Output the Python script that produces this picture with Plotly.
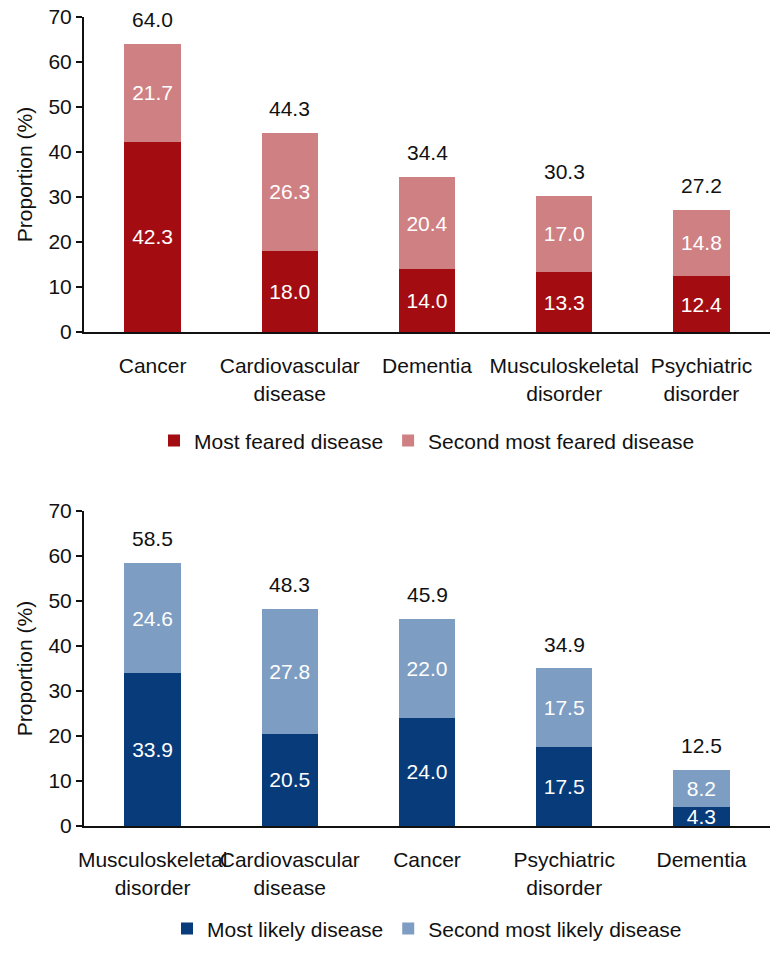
import plotly.graph_objects as go

# Top chart data
fear_categories = ["Cancer", "Cardiovascular<br>disease", "Dementia", "Musculoskeletal<br>disorder", "Psychiatric<br>disorder"]
fear_most = [42.3, 18.0, 14.0, 13.3, 12.4]
fear_second = [21.7, 26.3, 20.4, 17.0, 14.8]
fear_total = [64.0, 44.3, 34.4, 30.3, 27.2]

# Bottom chart data
likely_categories = ["Musculoskeletal<br>disorder", "Cardiovascular<br>disease", "Cancer", "Psychiatric<br>disorder", "Dementia"]
likely_most = [33.9, 20.5, 24.0, 17.5, 4.3]
likely_second = [24.6, 27.8, 22.0, 17.5, 8.2]
likely_total = [58.5, 48.3, 45.9, 34.9, 12.5]

y_ticks = [0, 10, 20, 30, 40, 50, 60, 70]

FONT = "Arial, Liberation Sans, sans-serif"
FS = 21
RED_DARK = "#A30D12"
RED_LIGHT = "#CF8083"
BLUE_DARK = "#083B79"
BLUE_LIGHT = "#7E9DC2"
BW = 0.41
TXT = dict(family=FONT, size=FS, color="white")


def bar(x, y, name, color, xa, ya, lg):
    return go.Bar(x=x, y=y, name=name,
                  marker=dict(color=color, line=dict(width=0)), width=BW,
                  text=[f"{v:.1f}" for v in y], textposition="inside",
                  insidetextanchor="middle", textfont=TXT, textangle=0,
                  constraintext="none", cliponaxis=False,
                  xaxis=xa, yaxis=ya, legend=lg)


fig = go.Figure()
fig.add_trace(bar(fear_categories, fear_most, "Most feared disease", RED_DARK, "x", "y", "legend"))
fig.add_trace(bar(fear_categories, fear_second, "Second most feared disease", RED_LIGHT, "x", "y", "legend"))
fig.add_trace(bar(likely_categories, likely_most, "Most likely disease", BLUE_DARK, "x2", "y2", "legend2"))
fig.add_trace(bar(likely_categories, likely_second, "Second most likely disease", BLUE_LIGHT, "x2", "y2", "legend2"))

annotations = []
for c, t in zip(fear_categories, fear_total):
    annotations.append(dict(x=c, y=t, xref="x", yref="y", text=f"{t:.1f}", showarrow=False,
                            yanchor="bottom", yshift=11, font=dict(family=FONT, size=FS, color="#111")))
for c, t in zip(likely_categories, likely_total):
    annotations.append(dict(x=c, y=t, xref="x2", yref="y2", text=f"{t:.1f}", showarrow=False,
                            yanchor="bottom", yshift=11, font=dict(family=FONT, size=FS, color="#111")))

xax = dict(showline=True, linecolor="#111", linewidth=2, ticks="", showgrid=False,
           tickfont=dict(family=FONT, size=FS, color="#111"), ticklabelstandoff=14,
           tickangle=0, range=[-0.5, 4.5], automargin=False)
yax = dict(showline=True, linecolor="#111", linewidth=2, ticks="outside", ticklen=6,
           tickwidth=2, tickcolor="#111", showgrid=False, zeroline=False,
           range=[0, 70], tickvals=y_ticks, automargin=False, ticklabeloverflow="allow",
           tickfont=dict(family=FONT, size=FS, color="#111"),
           title=dict(text="Proportion (%)", font=dict(family=FONT, size=FS, color="#111"), standoff=10))

fig.update_layout(
    width=782, height=953,
    margin=dict(l=84, r=12, t=17, b=127, autoexpand=False),
    paper_bgcolor="white", plot_bgcolor="white",
    barmode="stack",
    font=dict(family=FONT, size=FS, color="#111"),
    xaxis=dict(**xax, domain=[0, 1], anchor="y"),
    yaxis=dict(**yax, domain=[0.6106, 1], anchor="x"),
    xaxis2=dict(**xax, domain=[0, 1], anchor="y2"),
    yaxis2=dict(**yax, domain=[0, 0.3894], anchor="x2"),
    legend=dict(orientation="h", x=0.5, xanchor="center", y=0.476, yanchor="middle",
                font=dict(family=FONT, size=FS, color="#111"), traceorder="normal"),
    legend2=dict(orientation="h", x=0.5, xanchor="center", y=-0.127, yanchor="middle",
                 font=dict(family=FONT, size=FS, color="#111"), traceorder="normal"),
    annotations=annotations,
)

# remove the default 8px page margin so the figure fills the 782x953 window exactly
fig.write_html("out.html", post_script="document.body.style.margin='0';",
               config={"displayModeBar": False})
